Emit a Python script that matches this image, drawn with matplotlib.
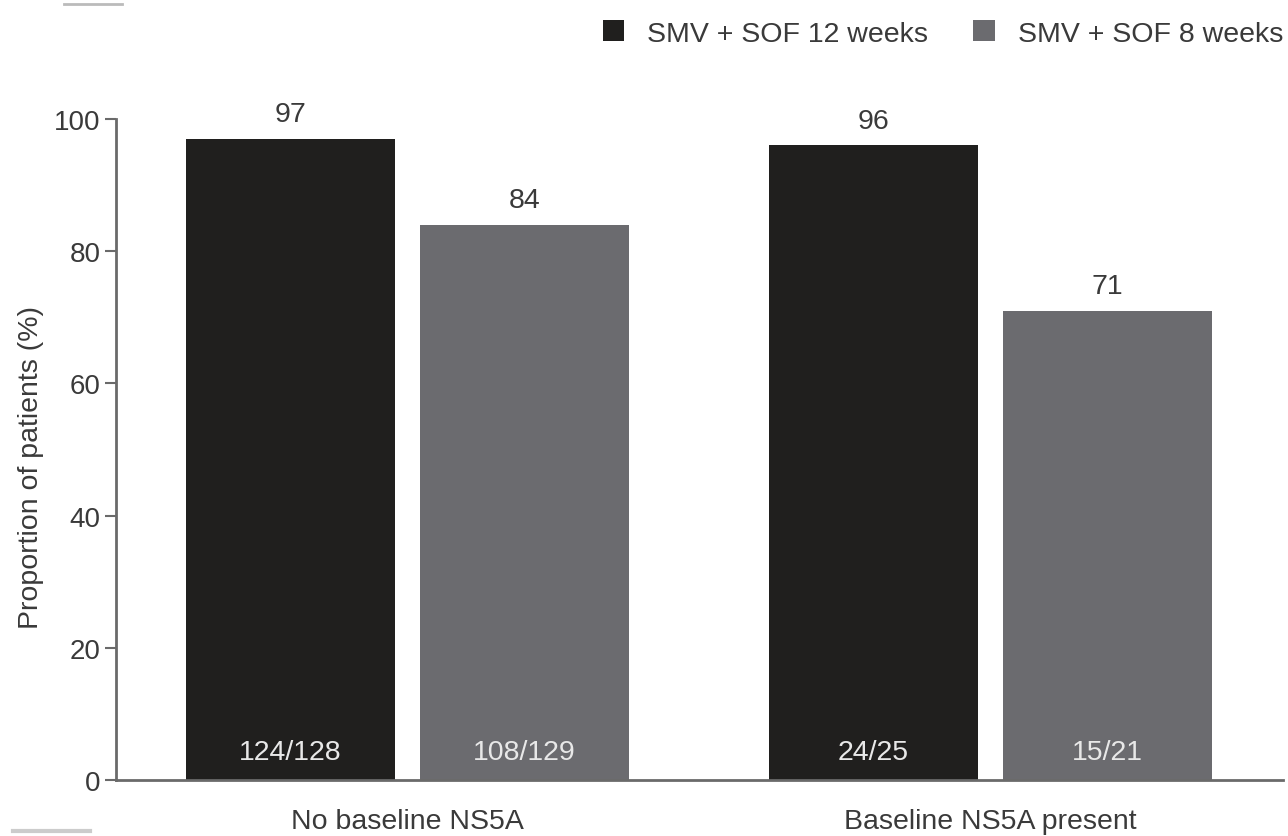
import matplotlib.pyplot as plt
from matplotlib.patches import Patch
import numpy as np

# data
groups = ['No baseline NS5A', 'Baseline NS5A present']
series = ['SMV + SOF 12 weeks', 'SMV + SOF 8 weeks']
pct_12w = [97, 96]
pct_8w = [84, 71]
n_12w = ['124/128', '24/25']
n_8w = ['108/129', '15/21']

colors = ['#201f1e', '#6b6b6f']
txt = '#3a3a3a'
axcol = '#6a6a6a'
fs = 20.5

plt.rcParams['font.family'] = ['Liberation Sans', 'DejaVu Sans']

fig = plt.figure(figsize=(12.88, 8.37), dpi=100)
ax = fig.add_axes([0.0901, 0.0669, 0.906, 0.7897])

x = np.arange(len(groups))
w = 0.3585
off = 0.2007

for vals, labels, pos, col in [(pct_12w, n_12w, x - off, colors[0]),
                               (pct_8w, n_8w, x + off, colors[1])]:
    ax.bar(pos, vals, width=w, color=col, zorder=2)
    for p, v, lab in zip(pos, vals, labels):
        ax.text(p, v + 1.8, str(v), ha='center', va='bottom', fontsize=fs, color=txt)
        ax.text(p, 2.3, lab, ha='center', va='bottom', fontsize=fs, color='#e8e8e8')

ax.set_xlim(-0.5, 1.502)
ax.set_ylim(0, 100)
ax.set_yticks(range(0, 101, 20))
ax.set_xticks(x)
ax.set_xticklabels(groups)
ax.set_ylabel('Proportion of patients (%)', fontsize=fs, color=txt)
ax.yaxis.set_label_coords(-0.062, 0.475)

for s in ['top', 'right']:
    ax.spines[s].set_visible(False)
for s in ['left', 'bottom']:
    ax.spines[s].set_color(axcol)
    ax.spines[s].set_linewidth(2)
ax.tick_params(axis='y', length=8, width=1.5, color=axcol, labelsize=20, labelcolor=txt, pad=3)
ax.tick_params(axis='x', length=0, labelsize=fs, labelcolor=txt, pad=20)

handles = [Patch(facecolor=c, label=s) for c, s in zip(colors, series)]
fig.legend(handles=handles, loc='upper right', bbox_to_anchor=(1.016, 1.005), ncol=2,
           frameon=False, fontsize=fs, handlelength=0.75, handleheight=0.75,
           handletextpad=0.8, columnspacing=1.6, labelcolor=txt)

# stray crop marks from the source image
fig.add_artist(plt.Line2D([0.05, 0.095], [0.994, 0.994], color='#bbbbbb', lw=2))
fig.add_artist(plt.Line2D([0.01, 0.07], [0.006, 0.006], color='#cccccc', lw=3))

fig.savefig('out.png', dpi=100)
